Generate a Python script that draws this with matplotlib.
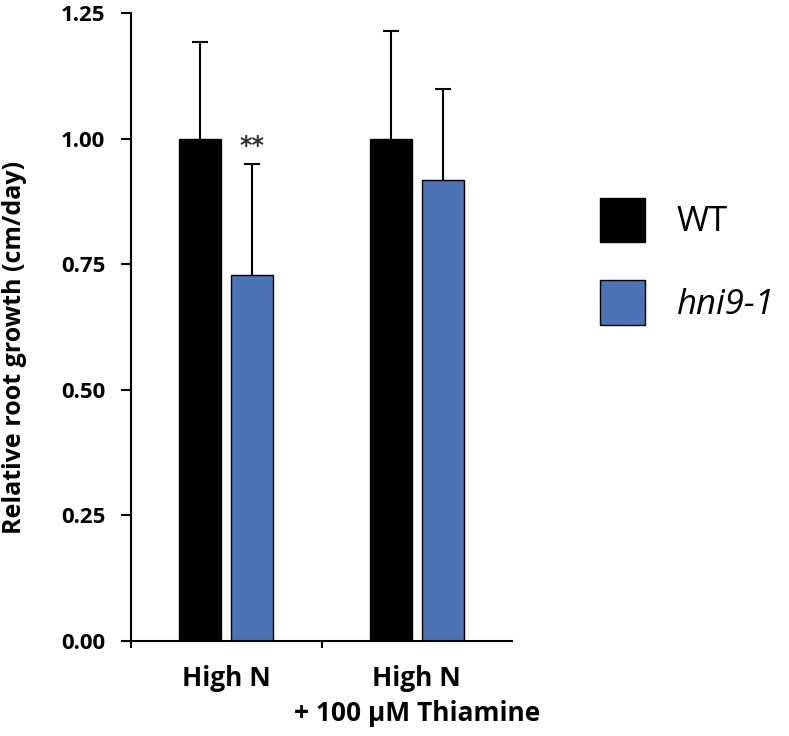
import matplotlib

matplotlib.use("Agg")
import matplotlib.pyplot as plt
import numpy as np
from matplotlib.patches import Patch

plt.rcParams["font.family"] = ["Open Sans", "DejaVu Sans"]

# data
conditions = ["High N", "High N\n+ 100 \u00b5M Thiamine"]
genotypes = ["WT", "hni9-1"]
wt_growth = [1.00, 1.00]
wt_sd = [0.192, 0.214]
hni9_growth = [0.728, 0.917]
hni9_sd = [0.222, 0.181]
stars = ["**", ""]

WT_COLOR = "black"
HNI9_COLOR = "#4a72b4"

fig = plt.figure(figsize=(7.89, 7.36), dpi=100)
ax = fig.add_axes([0.166, 0.1291, 0.483, 0.8532])

x = np.arange(len(conditions))
width = 0.22
offset = 0.137

ax.bar(x - offset, wt_growth, width, color=WT_COLOR, edgecolor="black", linewidth=1.0, zorder=2)
ax.bar(x + offset, hni9_growth, width, color=HNI9_COLOR, edgecolor="black", linewidth=1.0, zorder=2)

# upper error bars only
for pos, vals, errs in [(x - offset, wt_growth, wt_sd), (x + offset, hni9_growth, hni9_sd)]:
    eb = ax.errorbar(pos, vals, yerr=[np.zeros(len(pos)), errs], fmt="none",
                     ecolor="black", elinewidth=1.5, capsize=6, capthick=1.5, zorder=1)
    eb[1][0].set_visible(False)

for xi, s in zip(x, stars):
    if s:
        ax.text(xi + offset, 0.985, s, ha="center", va="center", fontsize=17,
                fontweight="bold", color="#333333", family="DejaVu Sans")

ax.set_xlim(-0.5, 1.5)
ax.set_ylim(0, 1.25)
ax.set_yticks([0, 0.25, 0.5, 0.75, 1.0, 1.25])
ax.set_yticklabels(["0.00", "0.25", "0.50", "0.75", "1.00", "1.25"])
ax.set_xticks(x)
ax.set_xticklabels(conditions, fontsize=19, fontweight="bold", linespacing=1.4)
ax.set_xticks([-0.5, 0.5], minor=True)

for lbl in ax.get_yticklabels():
    lbl.set_fontweight("bold")
    lbl.set_fontsize(16)

ax.tick_params(axis="y", direction="out", length=7, width=1.5, pad=11.5)
ax.tick_params(axis="x", which="major", length=0, pad=17)
ax.tick_params(axis="x", which="minor", direction="out", length=5, width=1.5)

for side in ["top", "right"]:
    ax.spines[side].set_visible(False)
for side in ["left", "bottom"]:
    ax.spines[side].set_linewidth(1.5)

ax.set_ylabel("Relative root growth (cm/day)", fontsize=18, fontweight="bold")
ax.yaxis.set_label_coords(-0.273, 0.468)

handles = [
    Patch(facecolor=WT_COLOR, edgecolor="black", linewidth=1.0),
    Patch(facecolor=HNI9_COLOR, edgecolor="black", linewidth=1.0),
]
leg = fig.legend(handles, genotypes, loc="center left", bbox_to_anchor=(0.743, 0.645),
                 frameon=False, fontsize=25, handlelength=1.3, handleheight=1.6,
                 handletextpad=0.9, labelspacing=1.1, borderaxespad=0)
leg.get_texts()[1].set_style("italic")

fig.savefig("out.png", dpi=100)
